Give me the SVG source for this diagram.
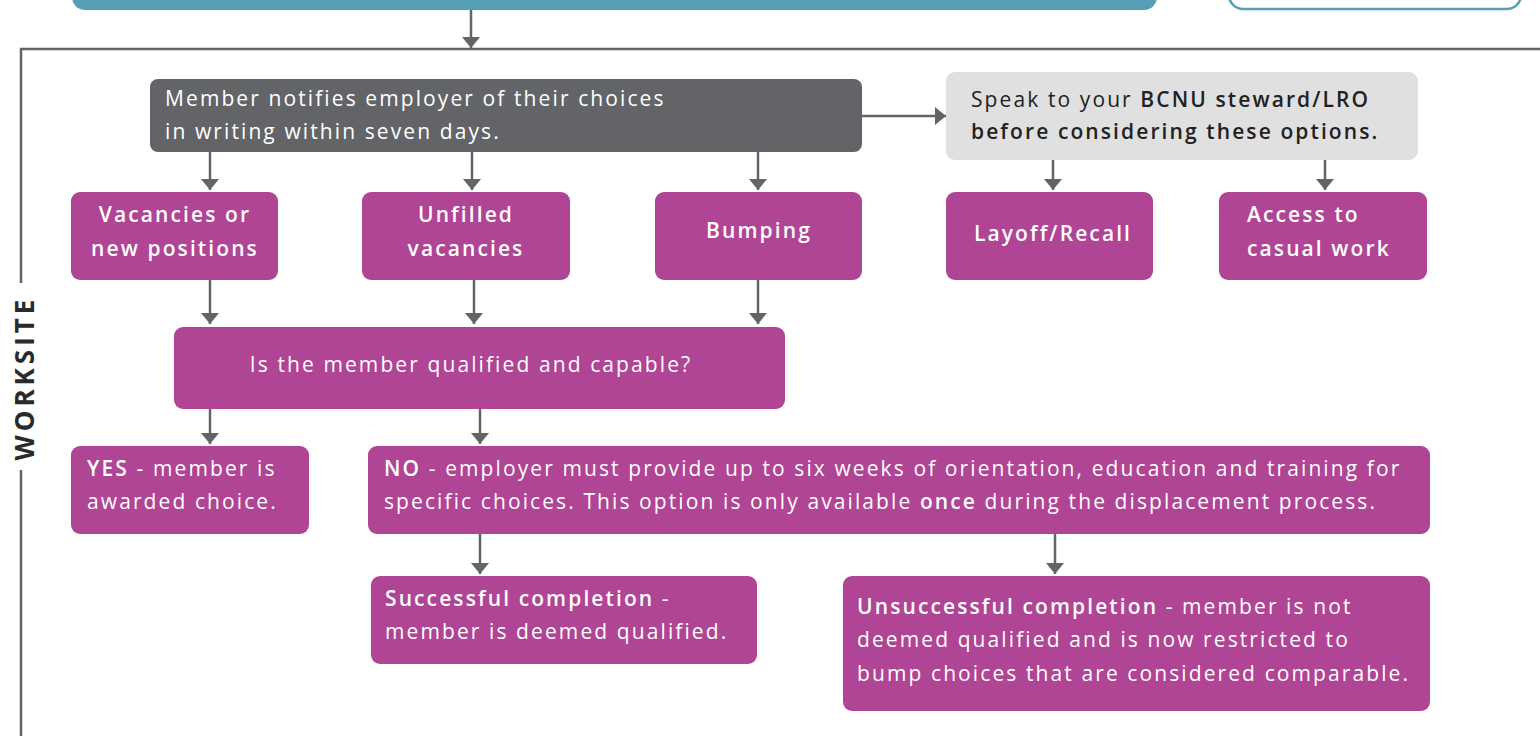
<svg xmlns="http://www.w3.org/2000/svg" width="1540" height="736" viewBox="0 0 1540 736">
<defs>
<marker id="ah" markerUnits="userSpaceOnUse" markerWidth="11" markerHeight="18" refX="11" refY="9" orient="auto">
<path d="M0,0 L11,9 L0,18 z" fill="#636468"/>
</marker>
<style>
.p{fill:#b04495}
.t{font-family:"Open Sans","Liberation Sans",sans-serif;font-size:21px;letter-spacing:2.1px;fill:#ffffff}
.d{font-family:"Open Sans","Liberation Sans",sans-serif;font-size:21px;letter-spacing:2.1px;fill:#222222}
.b{font-weight:600}
.c{stroke:#636468;stroke-width:2.5;fill:none;marker-end:url(#ah)}
</style>
</defs>
<rect width="1540" height="736" fill="#ffffff"/>
<g id="top-bar"><rect x="72" y="-30" width="1085" height="40" rx="13" fill="#55a0b6"/></g>
<g id="top-right-box"><rect x="1229" y="-30" width="292" height="39" rx="14" fill="#ffffff" stroke="#55a0b6" stroke-width="2.5"/></g>
<g id="worksite-frame">
<path d="M1540,49 L21,49 L21,283 M21,470 L21,736" stroke="#636468" stroke-width="2.5" fill="none"/>
<text transform="translate(34,378) rotate(-90)" text-anchor="middle" style="font-family:'Open Sans','Liberation Sans',sans-serif;font-size:26px;letter-spacing:4px;font-weight:700;fill:#2a2a2a">WORKSITE</text>
</g>
<g id="connectors">
<line class="c" x1="471" y1="10" x2="471" y2="48"/>
<line class="c" x1="862" y1="116" x2="946" y2="116"/>
<line class="c" x1="210" y1="152" x2="210" y2="190"/>
<line class="c" x1="472" y1="152" x2="472" y2="190"/>
<line class="c" x1="758" y1="152" x2="758" y2="190"/>
<line class="c" x1="1053" y1="160" x2="1053" y2="190"/>
<line class="c" x1="1325" y1="160" x2="1325" y2="190"/>
<line class="c" x1="210" y1="280" x2="210" y2="324"/>
<line class="c" x1="474" y1="280" x2="474" y2="324"/>
<line class="c" x1="758" y1="280" x2="758" y2="324"/>
<line class="c" x1="210" y1="409" x2="210" y2="444"/>
<line class="c" x1="480" y1="409" x2="480" y2="444"/>
<line class="c" x1="480" y1="534" x2="480" y2="574"/>
<line class="c" x1="1055" y1="534" x2="1055" y2="574"/>
</g>
<g id="notify">
<rect x="150" y="79" width="712" height="73" rx="8" fill="#636468"/>
<text class="t" x="165" y="106">Member notifies employer of their choices</text>
<text class="t" x="165" y="139">in writing within seven days.</text>
</g>
<g id="steward">
<rect x="946" y="72" width="472" height="88" rx="9" fill="#e0e0e0"/>
<text class="d" x="971" y="107">Speak to your <tspan class="b">BCNU steward/LRO</tspan></text>
<text class="d b" x="971" y="139">before considering these options.</text>
</g>
<g id="vacancies">
<rect class="p" x="71" y="192" width="207" height="88" rx="9"/>
<text class="t b" x="175" y="222" text-anchor="middle">Vacancies or</text>
<text class="t b" x="175" y="256" text-anchor="middle">new positions</text>
</g>
<g id="unfilled">
<rect class="p" x="362" y="192" width="208" height="88" rx="9"/>
<text class="t b" x="466" y="222" text-anchor="middle">Unfilled</text>
<text class="t b" x="466" y="256" text-anchor="middle">vacancies</text>
</g>
<g id="bumping">
<rect class="p" x="655" y="192" width="207" height="88" rx="9"/>
<text class="t b" x="759" y="238" text-anchor="middle">Bumping</text>
</g>
<g id="layoff">
<rect class="p" x="946" y="192" width="207" height="88" rx="9"/>
<text class="t b" x="1053" y="241" text-anchor="middle">Layoff/Recall</text>
</g>
<g id="casual">
<rect class="p" x="1219" y="192" width="208" height="88" rx="9"/>
<text class="t b" x="1247" y="222">Access to</text>
<text class="t b" x="1247" y="256">casual work</text>
</g>
<g id="qualified">
<rect class="p" x="174" y="327" width="611" height="82" rx="9"/>
<text class="t" x="471" y="372" text-anchor="middle">Is the member qualified and capable?</text>
</g>
<g id="yes">
<rect class="p" x="71" y="446" width="238" height="88" rx="9"/>
<text class="t" x="87" y="476"><tspan class="b">YES</tspan> - member is</text>
<text class="t" x="87" y="509">awarded choice.</text>
</g>
<g id="no">
<rect class="p" x="368" y="446" width="1062" height="88" rx="9"/>
<text class="t" x="384" y="476"><tspan class="b">NO</tspan> - employer must provide up to six weeks of orientation, education and training for</text>
<text class="t" x="384" y="509">specific choices. This option is only available <tspan class="b">once</tspan> during the displacement process.</text>
</g>
<g id="successful">
<rect class="p" x="371" y="576" width="386" height="88" rx="9"/>
<text class="t" x="385" y="606"><tspan class="b">Successful completion</tspan> -</text>
<text class="t" x="385" y="639">member is deemed qualified.</text>
</g>
<g id="unsuccessful">
<rect class="p" x="843" y="576" width="587" height="135" rx="9"/>
<text class="t" x="857" y="614"><tspan class="b">Unsuccessful completion</tspan> - member is not</text>
<text class="t" x="857" y="647">deemed qualified and is now restricted to</text>
<text class="t" x="857" y="681">bump choices that are considered comparable.</text>
</g>
</svg>
